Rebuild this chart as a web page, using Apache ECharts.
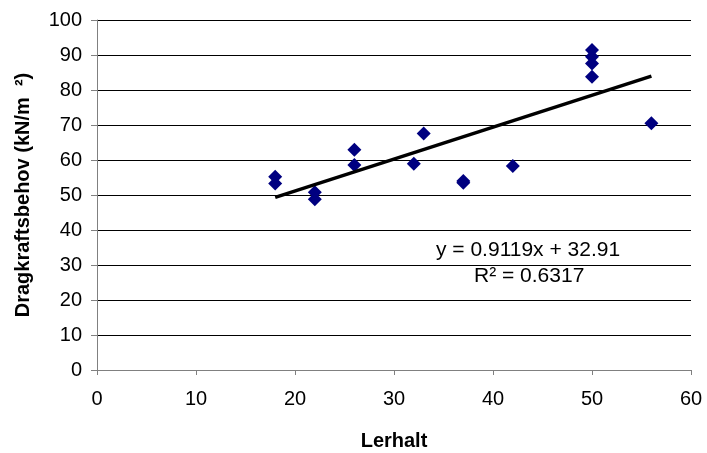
<!DOCTYPE html>
<html>
<head>
<meta charset="utf-8">
<script src="https://cdn.jsdelivr.net/npm/echarts@6/dist/echarts.min.js"></script>
<style>
    html, body { margin: 0; padding: 0; background: #fff; }
    #chart { width: 707px; height: 453px; }
</style>
</head>
<body>
<div id="chart"></div>
<script>
    // measured points (Lerhalt, Dragkraftsbehov)
    var lerhalt = [18, 18, 22, 22, 26, 26, 32, 33, 37, 37, 42, 50, 50, 50, 50, 56];
    var dragkraft = [55.2, 53.3, 50.8, 48.8, 62.9, 58.6, 58.9, 67.6, 53.5, 54.0, 58.3, 91.4, 89.5, 87.6, 83.8, 70.5];
    // linear trend line
    var slope = 0.9119;
    var intercept = 32.91;
    var trendX = [18, 56];
    var xTicks = [0, 10, 20, 30, 40, 50, 60];
    var yTicks = [0, 10, 20, 30, 40, 50, 60, 70, 80, 90, 100];

    var points = [];
    for (var i = 0; i < lerhalt.length; i++) {
        points.push([lerhalt[i], dragkraft[i]]);
    }
    var trend = [];
    for (var j = 0; j < trendX.length; j++) {
        trend.push([trendX[j], slope * trendX[j] + intercept]);
    }

    var font = "'Liberation Sans', Arial, sans-serif";
    var chart = echarts.init(document.getElementById('chart'));
    var option = {
        animation: false,
        backgroundColor: '#fff',
        textStyle: { fontFamily: font },
        grid: { left: 97, right: 16, top: 20, bottom: 83, containLabel: false, outerBoundsMode: 'none' },
        xAxis: {
            type: 'value',
            min: xTicks[0],
            max: xTicks[xTicks.length - 1],
            interval: 10,
            name: 'Lerhalt',
            nameLocation: 'middle',
            nameGap: 61,
            nameTextStyle: { fontFamily: font, fontSize: 20, fontWeight: 'bold', color: '#000' },
            axisLine: { show: true, lineStyle: { color: '#808080', width: 1 } },
            axisTick: { show: true, length: 5, inside: false, lineStyle: { color: '#808080' } },
            axisLabel: { fontFamily: font, fontSize: 20, color: '#000', margin: 19 },
            splitLine: { show: false }
        },
        yAxis: {
            type: 'value',
            min: yTicks[0],
            max: yTicks[yTicks.length - 1],
            interval: 10,
            name: 'Dragkraftsbehov (kN/m  \u00b2)',
            nameLocation: 'middle',
            nameGap: 64,
            nameTextStyle: { fontFamily: font, fontSize: 20, fontWeight: 'bold', color: '#000' },
            axisLine: { show: true, lineStyle: { color: '#808080', width: 1 } },
            axisTick: { show: true, length: 6, inside: false, lineStyle: { color: '#808080' } },
            axisLabel: { fontFamily: font, fontSize: 20, color: '#000', margin: 15 },
            splitLine: { show: true, lineStyle: { color: '#000', width: 1 } }
        },
        series: [{
            name: 'Dragkraftsbehov',
            type: 'scatter',
            symbol: 'diamond',
            symbolSize: 14,
            itemStyle: { color: '#000080', opacity: 1 },
            data: points,
            z: 3
        }, {
            name: 'Trend',
            type: 'line',
            symbol: 'none',
            lineStyle: { color: '#000', width: 3.5 },
            data: trend,
            z: 4
        }],
        graphic: [{
            type: 'text',
            left: 436,
            top: 240,
            style: { text: 'y = 0.9119x + 32.91', font: '21px ' + font, fill: '#000' }
        }, {
            type: 'text',
            left: 474,
            top: 266,
            style: { text: 'R\u00b2 = 0.6317', font: '21px ' + font, fill: '#000' }
        }]
    };
    chart.setOption(option);
</script>
</body>
</html>
